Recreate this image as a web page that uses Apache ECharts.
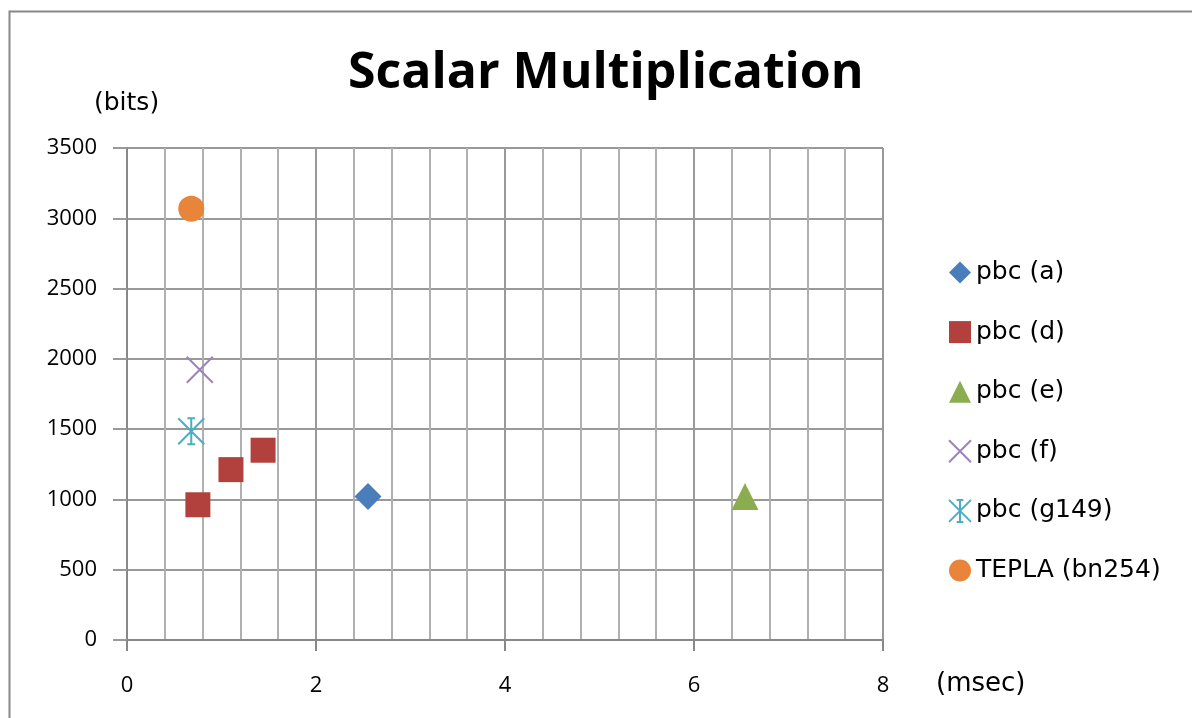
<!DOCTYPE html>
<html>
<head>
<meta charset="utf-8">
<script src="https://cdn.jsdelivr.net/npm/echarts@6/dist/echarts.min.js"></script>
<style>
html,body{margin:0;padding:0;background:#fff;}
#c{width:1192px;height:718px;}
</style>
</head>
<body>
<div id="c"></div>
<script>
// ---- data (x: msec, y: bits) ----
const seriesNames = ['pbc (a)', 'pbc (d)', 'pbc (e)', 'pbc (f)', 'pbc (g149)', 'TEPLA (bn254)'];
const pbcA = [[2.55, 1020]];
const pbcD = [[0.75, 962], [1.10, 1212], [1.44, 1350]];
const pbcE = [[6.54, 1020]];
const pbcF = [[0.77, 1922]];
const pbcG149 = [[0.68, 1485]];
const tepla = [[0.68, 3068]];
const xTicks = [0, 2, 4, 6, 8];
const yTicks = [0, 500, 1000, 1500, 2000, 2500, 3000, 3500];
const titleText = 'Scalar Multiplication';
const xName = '(msec)';
const yName = '(bits)';

const chart = echarts.init(document.getElementById('c'), null, {renderer: 'canvas'});
const font = "'Open Sans', sans-serif";
const wideFont = "'DejaVu Sans', sans-serif";

const crossPath = 'path://M0,0L10,10M10,0L0,10';
const starPath = 'path://M5,0L5,10M0,0L10,10M10,0L0,10M3.5,0L6.5,0M3.5,10L6.5,10';

function mk(name, data, symbol, size, color, stroke) {
  return {
    name: name, type: 'scatter', data: data, symbol: symbol, symbolSize: size,
    itemStyle: stroke ? {color: 'rgba(0,0,0,0)', borderColor: color, borderWidth: 2, opacity: 1}
                      : {color: color, opacity: 1},
    emphasis: {disabled: true}
  };
}

const option = {
  backgroundColor: '#fff',
  animation: false,
  title: {
    text: titleText, left: 343, top: 44,
    textStyle: {fontFamily: font, fontWeight: 'bold', fontSize: 50, color: '#000'}
  },
  grid: {left: 127, right: 309, top: 148, bottom: 78, containLabel: false},
  legend: {
    orient: 'vertical', left: 943, top: 255,
    itemWidth: 22, itemHeight: 22, itemGap: 34.6,
    textStyle: {fontFamily: wideFont, fontSize: 25, color: '#000', lineHeight: 25},
    data: seriesNames
  },
  xAxis: {
    type: 'value', min: 0, max: 8, interval: 2,
    axisLine: {show: true, onZero: false, lineStyle: {color: '#888', width: 2}},
    axisTick: {show: true, length: 11, lineStyle: {color: '#888', width: 2}},
    axisLabel: {fontFamily: font, fontSize: 22, color: '#000', margin: 35,
      formatter: v => xTicks.includes(v) ? String(v) : ''},
    splitLine: {show: true, lineStyle: {color: '#999', width: 2}},
    minorTick: {show: false, splitNumber: 5},
    minorSplitLine: {show: true, lineStyle: {color: '#b0b0b0', width: 2}}
  },
  yAxis: {
    type: 'value', min: 0, max: 3500, interval: 500,
    axisLine: {show: true, onZero: false, lineStyle: {color: '#888', width: 2}},
    axisTick: {show: true, length: 14, lineStyle: {color: '#999', width: 2}},
    axisLabel: {fontFamily: font, fontSize: 22, color: '#000', margin: 30,
      formatter: v => yTicks.includes(v) ? String(v) : ''},
    splitLine: {show: true, lineStyle: {color: '#999', width: 2}}
  },
  graphic: [
    {type: 'rect', left: 7, top: 9, shape: {width: 1200, height: 720},
     style: {fill: 'none', stroke: '#888', lineWidth: 2}, silent: true, z: -1},
    {type: 'text', left: 936, top: 671, style: {text: xName, font: "26px 'DejaVu Sans'", fill: '#000'}},
    {type: 'text', left: 94, top: 91, style: {text: yName, font: "25px 'DejaVu Sans'", fill: '#000'}}
  ],
  series: [
    mk(seriesNames[0], pbcA, 'diamond', 27, '#4A7EBB', false),
    mk(seriesNames[1], pbcD, 'rect', 25, '#B2403D', false),
    mk(seriesNames[2], pbcE, 'triangle', 27, '#8AAE4F', false),
    mk(seriesNames[3], pbcF, crossPath, 26, '#9A84BA', true),
    mk(seriesNames[4], pbcG149, starPath, 26, '#4BACC6', true),
    mk(seriesNames[5], tepla, 'circle', 26, '#E8853A', false)
  ]
};
chart.setOption(option);
</script>
</body>
</html>
